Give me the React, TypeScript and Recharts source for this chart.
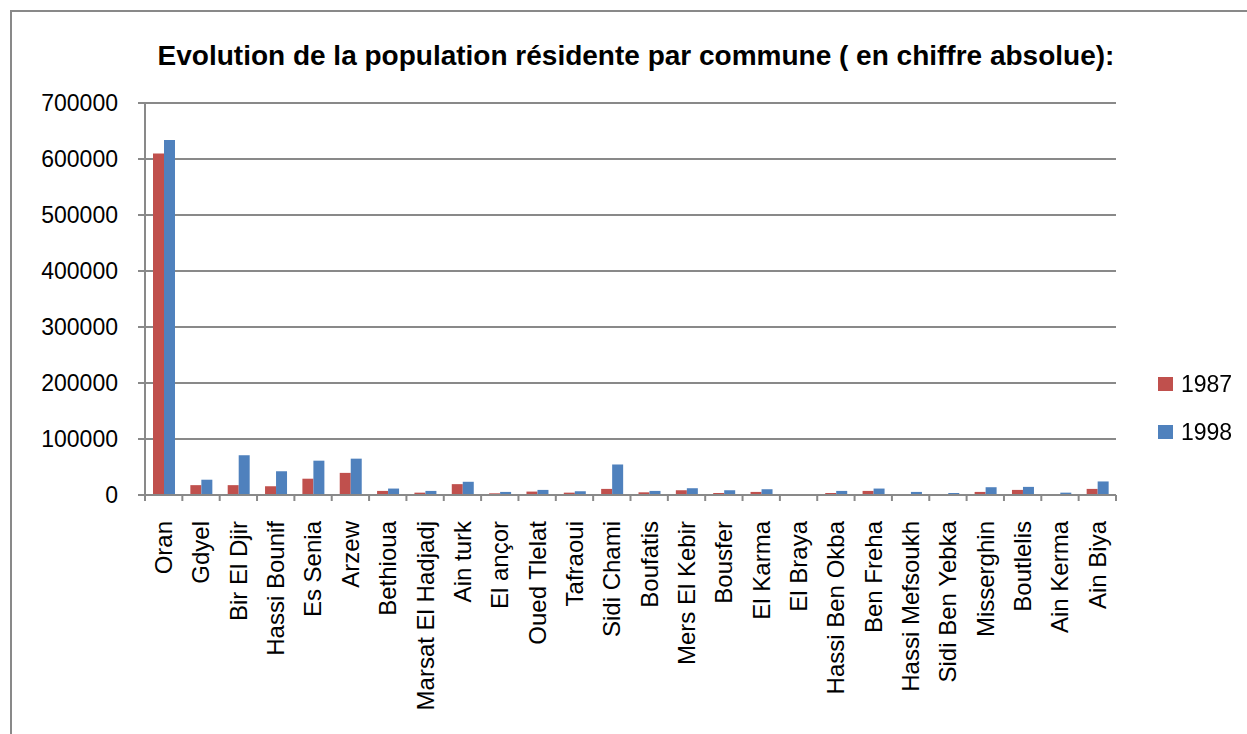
import React from "react";
import { Bar, BarChart, CartesianGrid, Legend, XAxis, YAxis } from "recharts";

const communes = [
  "Oran", "Gdyel", "Bir El Djir", "Hassi Bounif", "Es Senia", "Arzew",
  "Bethioua", "Marsat El Hadjadj", "Ain turk", "El ançor", "Oued Tlelat",
  "Tafraoui", "Sidi Chami", "Boufatis", "Mers El Kebir", "Bousfer",
  "El Karma", "El Braya", "Hassi Ben Okba", "Ben Freha", "Hassi Mefsoukh",
  "Sidi Ben Yebka", "Misserghin", "Boutlelis", "Ain Kerma", "Ain Biya",
];

const pop1987 = [
  610000, 17600, 17600, 15800, 29100, 39500, 7300, 4200, 19400, 3000, 6100,
  4200, 10900, 4800, 8500, 3600, 5500, 1000, 3600, 7300, 1800, 1200, 5500,
  9100, 1800, 10900,
];

const pop1998 = [
  634000, 27300, 71000, 42400, 61300, 64900, 11500, 7300, 23600, 5500, 9100,
  6700, 54500, 7300, 12100, 8500, 10300, 1800, 7300, 11500, 5500, 3600, 13900,
  14500, 4200, 24200,
];

const yTicks = [0, 100000, 200000, 300000, 400000, 500000, 600000, 700000];

const data = communes.map((name, i) => ({
  name,
  p1987: pop1987[i],
  p1998: pop1998[i],
}));

const GREY = "#898989";
const FONT = "'Liberation Sans', Arial, sans-serif";

// Excel-style category ticks: marks sit on the band edges, labels rotated
function CommuneTick(props: any) {
  const { x, y, payload, index, visibleTicksCount } = props;
  const half = payload.offset ?? 0;
  const last = index === visibleTicksCount - 1;
  return (
    <g>
      <line x1={x - half} x2={x - half} y1={y - 6} y2={y} stroke={GREY} strokeWidth={2} />
      {last && (
        <line x1={x + half} x2={x + half} y1={y - 6} y2={y} stroke={GREY} strokeWidth={2} />
      )}
      <text
        transform={`translate(${x},${y + 20}) rotate(-90)`}
        textAnchor="end"
        dy="0.35em"
        fontSize={24}
        fontFamily={FONT}
        fill="#000"
      >
        {payload.value}
      </text>
    </g>
  );
}

function YearLegend(props: any) {
  const { payload } = props;
  return (
    <div style={{ fontFamily: FONT }}>
      {payload.map((item: any) => (
        <div
          key={item.value}
          style={{ display: "flex", alignItems: "center", height: 24, marginBottom: 24 }}
        >
          <span
            style={{ width: 15, height: 14, background: item.color, marginRight: 8, display: "inline-block" }}
          />
          <span style={{ fontSize: 23, color: "#000" }}>{item.value}</span>
        </div>
      ))}
    </div>
  );
}

export default function App() {
  return (
    <div
      style={{
        position: "fixed",
        left: 10,
        top: 10,
        width: 1237,
        height: 724,
        boxSizing: "border-box",
        borderTop: `2px solid ${GREY}`,
        borderLeft: `2px solid ${GREY}`,
        background: "#fff",
      }}
    >
      <div
        style={{
          position: "absolute",
          left: 24,
          width: 1200,
          top: 28,
          textAlign: "center",
          fontFamily: FONT,
          fontWeight: "bold",
          fontSize: 28,
          lineHeight: "32px",
          color: "#000",
        }}
      >
        Evolution de la population résidente par commune ( en chiffre absolue):
      </div>
      <BarChart
        width={1235}
        height={722}
        data={data}
        barGap={0}
        margin={{ top: 91, right: 41, left: 0, bottom: 0 }}
      >
        <CartesianGrid vertical={false} stroke={GREY} strokeWidth={2} />
        <XAxis
          dataKey="name"
          interval={0}
          height={239}
          tickSize={6}
          tickMargin={0}
          tickLine={false}
          axisLine={{ stroke: GREY, strokeWidth: 2 }}
          tick={<CommuneTick />}
        />
        <YAxis
          domain={[0, 700000]}
          ticks={yTicks}
          interval={0}
          width={133}
          tickSize={7}
          tickMargin={20}
          axisLine={{ stroke: GREY, strokeWidth: 2 }}
          tickLine={{ stroke: GREY, strokeWidth: 2 }}
          tick={{ fill: "#000", fontSize: 23, fontFamily: FONT }}
        />
        <Legend
          layout="horizontal"
          verticalAlign="middle"
          align="right"
          wrapperStyle={{ left: 1146, top: 360, width: 90 }}
          content={<YearLegend />}
        />
        <Bar dataKey="p1987" name="1987" fill="#C0504D" barSize={11} isAnimationActive={false} />
        <Bar dataKey="p1998" name="1998" fill="#4F81BD" barSize={11} isAnimationActive={false} />
      </BarChart>
    </div>
  );
}
